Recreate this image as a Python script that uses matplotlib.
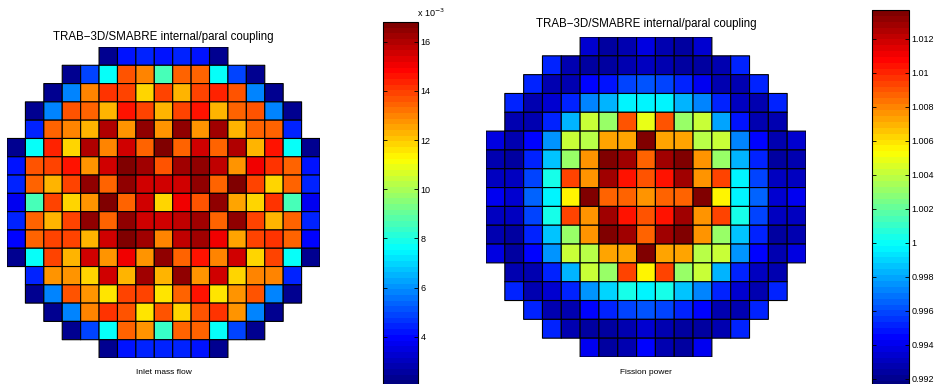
import numpy as np
import matplotlib
matplotlib.use("Agg")
import matplotlib.pyplot as plt
from matplotlib.colors import LinearSegmentedColormap

plt.rcParams['font.family'] = ['Liberation Sans', 'DejaVu Sans']

# 数据: 每行只列出堆芯内的燃料组件 (行居中, 17x17 网格)
title = "TRAB\u22123D/SMABRE internal/paral coupling"

# 入口质量流量 (x 1e-3)
inlet_flow = [
    [2.4, 4.2, 4.5, 4.1, 4.5, 4.2, 2.4],
    [2.4, 4.8, 7.6, 13.7, 13.1, 8.5, 13.5, 13.4, 7.6, 4.8, 2.4],
    [2.4, 5.7, 13.1, 14.1, 14.0, 11.9, 14.0, 12.2, 13.8, 14.4, 13.7, 5.7, 2.4],
    [2.4, 5.7, 13.7, 13.4, 12.2, 14.6, 13.8, 12.2, 13.8, 14.6, 12.2, 13.4, 13.7, 5.7, 2.4],
    [4.5, 13.5, 13.1, 12.4, 16.1, 12.7, 16.4, 12.7, 16.4, 12.8, 16.2, 12.2, 13.5, 13.4, 4.5],
    [2.4, 7.6, 14.4, 11.9, 16.1, 13.1, 15.6, 13.5, 16.8, 13.5, 15.6, 13.4, 16.1, 12.4, 14.6, 7.6, 2.4],
    [4.2, 13.7, 14.0, 14.6, 12.7, 15.6, 16.8, 16.2, 13.7, 16.2, 16.4, 15.8, 12.7, 15.0, 14.1, 13.5, 4.2],
    [4.5, 13.4, 12.2, 13.8, 16.5, 13.4, 16.5, 15.6, 15.6, 15.6, 16.4, 13.4, 16.8, 13.8, 11.9, 13.4, 4.5],
    [3.8, 8.5, 14.0, 11.9, 12.7, 16.8, 13.4, 15.5, 11.9, 15.0, 13.7, 16.5, 12.5, 11.9, 14.1, 8.5, 3.8],
    [4.5, 13.4, 12.2, 13.8, 16.5, 13.4, 16.5, 15.6, 15.5, 15.8, 16.2, 13.4, 16.5, 13.8, 12.2, 13.4, 4.5],
    [3.9, 13.4, 13.8, 13.8, 12.4, 15.5, 16.7, 16.2, 13.1, 15.8, 16.2, 15.0, 12.5, 14.0, 14.1, 13.4, 3.9],
    [2.4, 7.6, 13.8, 12.2, 15.6, 12.7, 15.0, 12.7, 16.5, 13.4, 14.7, 13.1, 15.6, 11.9, 13.8, 7.6, 2.4],
    [4.5, 12.8, 12.8, 11.9, 15.6, 12.4, 16.2, 12.4, 16.5, 12.8, 15.6, 11.9, 13.1, 13.1, 4.5],
    [2.4, 5.7, 13.7, 12.8, 11.6, 14.0, 13.8, 11.6, 13.5, 14.6, 11.6, 12.7, 13.7, 5.7, 2.4],
    [2.4, 5.7, 13.1, 14.1, 13.7, 11.6, 13.7, 11.9, 13.7, 14.1, 12.7, 5.7, 2.4],
    [2.4, 4.8, 7.6, 13.4, 12.8, 8.4, 13.4, 13.4, 7.6, 4.8, 2.4],
    [2.4, 4.2, 4.5, 4.4, 4.5, 4.2, 2.4],
]
flow_clim = (2.0, 16.8)
flow_ticks = [4, 6, 8, 10, 12, 14, 16]

# 裂变功率 (相对值)
fission_power = [
    [0.9935, 0.9924, 0.9928, 0.9937, 0.9928, 0.9924, 0.9935],
    [0.9951, 0.9928, 0.9922, 0.9922, 0.9926, 0.9931, 0.9926, 0.9922, 0.9922, 0.9928, 0.9951],
    [0.9951, 0.9928, 0.9926, 0.9943, 0.9948, 0.9957, 0.9962, 0.9957, 0.9951, 0.9942, 0.9926, 0.9928, 0.9951],
    [0.9953, 0.9926, 0.9933, 0.9951, 0.9971, 0.9984, 0.9995, 0.9995, 0.9998, 0.9984, 0.9971, 0.9951, 0.9931, 0.9926, 0.9951],
    [0.9928, 0.9928, 0.9951, 0.9984, 1.0043, 1.0030, 1.0090, 1.0048, 1.0090, 1.0030, 1.0043, 0.9979, 0.9948, 0.9928, 0.9928],
    [0.9937, 0.9926, 0.9943, 0.9976, 1.0043, 1.0039, 1.0073, 1.0073, 1.0137, 1.0073, 1.0073, 1.0037, 1.0043, 0.9971, 0.9943, 0.9926, 0.9935],
    [0.9928, 0.9924, 0.9951, 0.9987, 1.0030, 1.0077, 1.0135, 1.0128, 1.0088, 1.0128, 1.0135, 1.0075, 1.0030, 0.9984, 0.9951, 0.9924, 0.9928],
    [0.9931, 0.9931, 0.9959, 1.0004, 1.0093, 1.0075, 1.0128, 1.0104, 1.0090, 1.0104, 1.0128, 1.0075, 1.0093, 0.9998, 0.9957, 0.9931, 0.9931],
    [0.9942, 0.9933, 0.9965, 0.9998, 1.0054, 1.0135, 1.0088, 1.0088, 1.0077, 1.0088, 1.0088, 1.0135, 1.0054, 0.9998, 0.9965, 0.9933, 0.9942],
    [0.9931, 0.9931, 0.9959, 1.0004, 1.0093, 1.0075, 1.0128, 1.0104, 1.0090, 1.0104, 1.0128, 1.0075, 1.0093, 1.0004, 0.9957, 0.9931, 0.9931],
    [0.9928, 0.9924, 0.9951, 0.9987, 1.0030, 1.0077, 1.0135, 1.0128, 1.0088, 1.0128, 1.0135, 1.0075, 1.0030, 0.9987, 0.9951, 0.9924, 0.9928],
    [0.9937, 0.9922, 0.9943, 0.9975, 1.0043, 1.0039, 1.0073, 1.0073, 1.0137, 1.0073, 1.0073, 1.0039, 1.0043, 0.9975, 0.9943, 0.9926, 0.9937],
    [0.9928, 0.9928, 0.9951, 0.9984, 1.0043, 1.0030, 1.0093, 1.0054, 1.0093, 1.0030, 1.0043, 0.9984, 0.9951, 0.9931, 0.9928],
    [0.9953, 0.9928, 0.9933, 0.9951, 0.9976, 0.9990, 1.0004, 0.9998, 1.0004, 0.9987, 0.9971, 0.9953, 0.9933, 0.9928, 0.9953],
    [0.9951, 0.9928, 0.9928, 0.9943, 0.9953, 0.9959, 0.9962, 0.9959, 0.9953, 0.9943, 0.9928, 0.9928, 0.9951],
    [0.9953, 0.9928, 0.9922, 0.9924, 0.9928, 0.9935, 0.9928, 0.9924, 0.9922, 0.9928, 0.9953],
    [0.9942, 0.9924, 0.9928, 0.9943, 0.9928, 0.9924, 0.9942],
]
power_clim = (0.9915, 1.0137)
power_ticks = [0.992, 0.994, 0.996, 0.998, 1.0, 1.002, 1.004, 1.006, 1.008, 1.01, 1.012]

# MATLAB 风格 jet (64 色)
jet64 = LinearSegmentedColormap.from_list(
    "mjet",
    [(0, (0, 0, 0.5)), (1 / 8, (0, 0, 1)), (3 / 8, (0, 1, 1)),
     (5 / 8, (1, 1, 0)), (7 / 8, (1, 0, 0)), (1, (0.5, 0, 0))], N=64)


def to_grid(rows, n=17):
    g = np.full((n, n), np.nan)
    for i, r in enumerate(rows):
        s = (n - len(r)) // 2
        g[i, s:s + len(r)] = r
    return np.ma.masked_invalid(g)


W, H = 943, 384
fig = plt.figure(figsize=(W / 100, H / 100), dpi=100)


def fpos(x0, y0, x1, y1):
    # 像素框 -> figure 坐标
    return [x0 / W, 1 - y1 / H, (x1 - x0) / W, (y1 - y0) / H]


def core_map(rows, clim, ticks, ax_box, cb_box, label, title_y, label_y):
    ax = fig.add_axes(fpos(*ax_box))
    pc = ax.pcolor(to_grid(rows), cmap=jet64, vmin=clim[0], vmax=clim[1],
                   edgecolors='k', linewidths=0.8)
    ax.set_xlim(0, 17)
    ax.set_ylim(17, 0)
    ax.axis('off')
    cx = (ax_box[0] + ax_box[2]) / 2 / W
    fig.text(cx, 1 - title_y / H, title, ha='center', va='center', fontsize=8.3)
    fig.text(cx, 1 - label_y / H, label, ha='center', va='center', fontsize=6)
    cax = fig.add_axes(fpos(*cb_box))
    cb = fig.colorbar(pc, cax=cax, ticks=ticks)
    cb.ax.set_yticklabels(['%g' % t for t in ticks])
    cb.outline.set_linewidth(0.8)
    cax.tick_params(direction='in', left=True, right=True, length=3,
                    width=0.6, labelsize=6.5, pad=2)
    return cax


cax1 = core_map(inlet_flow, flow_clim, flow_ticks, (7, 47, 320, 358),
                (383, 22, 418, 386), "Inlet mass flow", 37, 372)
cax1.text(0.98, 1.008, "x 10$^{-3}$", transform=cax1.transAxes,
          fontsize=6.5, ha='left', va='bottom')

core_map(fission_power, power_clim, power_ticks, (486, 37, 806, 357),
         (872, 10, 909, 387), "Fission power", 24, 373)

fig.savefig("out.png", dpi=100)
